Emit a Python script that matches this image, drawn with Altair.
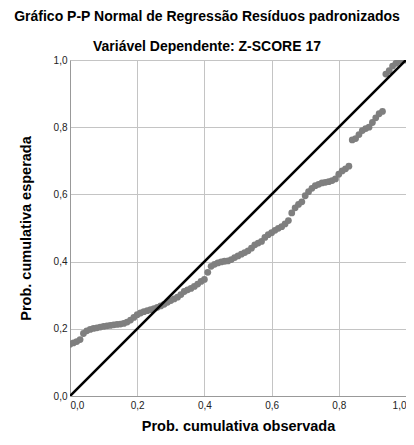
import altair as alt
import pandas as pd

title_main = "Gráfico P-P Normal de Regressão Resíduos padronizados"
title_sub = "Variável Dependente: Z-SCORE 17"
x_title = "Prob. cumulativa observada"
y_title = "Prob. cumulativa esperada"

obs = [0.00, 0.01, 0.02, 0.03, 0.04, 0.05, 0.06, 0.07, 0.08, 0.09,
       0.10, 0.11, 0.12, 0.13, 0.14, 0.15, 0.16, 0.17, 0.18, 0.19,
       0.20, 0.21, 0.22, 0.23, 0.24, 0.25, 0.26, 0.27, 0.28, 0.29,
       0.30, 0.31, 0.32, 0.33, 0.34, 0.35, 0.36, 0.37, 0.38, 0.39,
       0.40, 0.41, 0.42, 0.43, 0.44, 0.45, 0.46, 0.47, 0.48, 0.49,
       0.50, 0.51, 0.52, 0.53, 0.54, 0.55, 0.56, 0.57, 0.58, 0.59,
       0.60, 0.61, 0.62, 0.63, 0.64, 0.65, 0.66, 0.67, 0.68, 0.69,
       0.70, 0.71, 0.72, 0.73, 0.74, 0.75, 0.76, 0.77, 0.78, 0.79,
       0.80, 0.81, 0.82, 0.83, 0.84, 0.85, 0.86, 0.87, 0.88, 0.89,
       0.90, 0.91, 0.92, 0.93, 0.94, 0.95, 0.96, 0.97, 0.98, 0.99, 1.00]

esp = [0.154, 0.158, 0.162, 0.168, 0.186, 0.194, 0.198, 0.201, 0.203, 0.205,
       0.207, 0.209, 0.210, 0.212, 0.213, 0.214, 0.216, 0.220, 0.226, 0.234,
       0.242, 0.247, 0.251, 0.254, 0.257, 0.260, 0.264, 0.268, 0.273, 0.279,
       0.284, 0.289, 0.294, 0.302, 0.311, 0.316, 0.320, 0.326, 0.333, 0.341,
       0.347, 0.368, 0.386, 0.392, 0.396, 0.399, 0.401, 0.402, 0.406, 0.412,
       0.417, 0.422, 0.427, 0.432, 0.440, 0.450, 0.455, 0.460, 0.472, 0.480,
       0.486, 0.493, 0.499, 0.504, 0.512, 0.522, 0.545, 0.560, 0.570, 0.578,
       0.596, 0.608, 0.618, 0.626, 0.630, 0.634, 0.636, 0.638, 0.641, 0.646,
       0.660, 0.670, 0.676, 0.684, 0.762, 0.766, 0.778, 0.790, 0.796, 0.800,
       0.814, 0.828, 0.840, 0.847, 0.958, 0.968, 0.982, 0.990, 0.997, 1.000, 1.000]

diag_x = [0.0, 1.0]
diag_y = [0.0, 1.0]
tick_vals = [0.0, 0.2, 0.4, 0.6, 0.8, 1.0]

pts = pd.DataFrame({"obs": obs, "esp": esp})
diag = pd.DataFrame({"obs": diag_x, "esp": diag_y})

FONT = "Liberation Sans"
GRID = "#c4c4c4"
lab_expr = "replace(format(datum.value, '.1f'), '.', ',')"

axis_style = dict(values=tick_vals, labelExpr=lab_expr, grid=True, gridColor=GRID,
                  gridWidth=1, ticks=False, domainColor="#999999", domainWidth=1,
                  labelFont=FONT, labelFontSize=10, labelColor="#222222",
                  titleFont=FONT, titleFontSize=14.5, titleFontWeight="bold",
                  titleColor="#000000")

xenc = alt.X("obs:Q", scale=alt.Scale(domain=[0, 1], nice=False),
             axis=alt.Axis(title=x_title, titlePadding=9, labelPadding=4, **axis_style))
yenc = alt.Y("esp:Q", scale=alt.Scale(domain=[0, 1], nice=False),
             axis=alt.Axis(title=y_title, titlePadding=20, labelPadding=3, **axis_style))

points = alt.Chart(pts).mark_circle(size=46, color="#7f7f7f", opacity=1, clip=True).encode(
    x=xenc, y=yenc)
line = alt.Chart(diag).mark_line(color="#000000", strokeWidth=2.6, clip=True).encode(
    x="obs:Q", y="esp:Q")

chart = alt.layer(points, line).properties(
    width=336, height=336,
    autosize=alt.AutoSizeParams(type="none"),
    padding={"left": 62, "top": 52, "right": 0, "bottom": 40},
    title=alt.TitleParams(text=title_main, subtitle=title_sub, anchor="middle",
                          frame="group", dx=-31, offset=1,
                          font=FONT, fontSize=14, fontWeight="bold", color="#000000",
                          subtitleFont=FONT, subtitleFontSize=14,
                          subtitleFontWeight="bold", subtitleColor="#000000",
                          subtitlePadding=16),
).configure_view(stroke=GRID, strokeWidth=1).configure(background="#ffffff")

chart.save("out.html", embed_options={"renderer": "svg", "actions": False})
